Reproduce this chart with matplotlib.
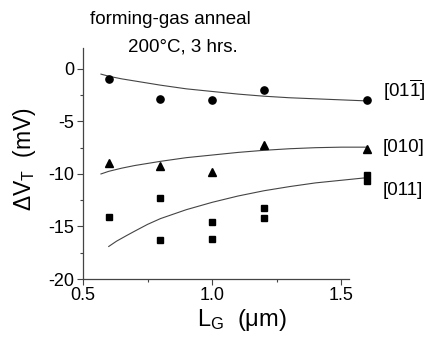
import matplotlib
matplotlib.use("Agg")
import matplotlib.pyplot as plt

plt.rcParams['font.family'] = ['Liberation Sans', 'DejaVu Sans']
plt.rcParams['mathtext.fontset'] = 'custom'
plt.rcParams['mathtext.rm'] = 'Liberation Sans'
plt.rcParams['mathtext.it'] = 'Liberation Sans:italic'
plt.rcParams['mathtext.bf'] = 'Liberation Sans:bold'

# Data
lg_circ = [0.6, 0.8, 1.0, 1.2, 1.6]
dv_circ = [-1.0, -2.9, -3.0, -2.0, -3.0]
lg_tri = [0.6, 0.8, 1.0, 1.2, 1.6]
dv_tri = [-9.0, -9.2, -9.8, -7.2, -7.6]
lg_sq = [0.6, 0.8, 0.8, 1.0, 1.0, 1.2, 1.2, 1.6, 1.6]
dv_sq = [-14.1, -12.3, -16.3, -14.6, -16.2, -13.2, -14.2, -10.1, -10.7]

# Fit curves
fit_x_circ = [0.57, 0.6, 0.65, 0.7, 0.75, 0.8, 0.9, 1.0, 1.1, 1.2, 1.3, 1.4, 1.5, 1.6]
fit_y_circ = [-0.5, -0.7, -0.95, -1.15, -1.35, -1.55, -1.9, -2.15, -2.4, -2.6, -2.75, -2.85, -2.95, -3.05]
fit_x_tri = [0.57, 0.6, 0.65, 0.7, 0.75, 0.8, 0.9, 1.0, 1.1, 1.2, 1.3, 1.4, 1.5, 1.6]
fit_y_tri = [-10.0, -9.75, -9.45, -9.2, -9.0, -8.8, -8.45, -8.2, -7.95, -7.75, -7.6, -7.5, -7.45, -7.45]
fit_x_sq = [0.6, 0.63, 0.67, 0.7, 0.75, 0.8, 0.9, 1.0, 1.1, 1.2, 1.3, 1.4, 1.5, 1.6]
fit_y_sq = [-16.9, -16.4, -15.85, -15.45, -14.8, -14.25, -13.4, -12.7, -12.1, -11.6, -11.2, -10.85, -10.6, -10.35]

labels = [r'[01$\overline{\mathrm{1}}$]', '[010]', '[011]']
label_y = [-2.0, -7.5, -11.6]

fig = plt.figure(figsize=(4.25, 3.37), dpi=100)
ax = fig.add_axes([0.195, 0.172, 0.73, 0.686])

lc = '#444444'
ax.plot(fit_x_circ, fit_y_circ, color=lc, lw=0.8)
ax.plot(fit_x_tri, fit_y_tri, color=lc, lw=0.8)
ax.plot(fit_x_sq, fit_y_sq, color=lc, lw=0.8)

ax.plot(lg_circ, dv_circ, 'o', color='black', ms=5.2, ls='none')
ax.plot(lg_tri, dv_tri, '^', color='black', ms=5.2, ls='none')
ax.plot(lg_sq, dv_sq, 's', color='black', ms=4.4, ls='none')

for lab, yy in zip(labels, label_y):
    ax.text(1.66, yy, lab, fontsize=13.5, va='center', ha='left')

ax.set_xlim(0.5, 1.7)
ax.set_ylim(-20, 2)
ax.set_xticks([0.5, 1.0, 1.5])
ax.set_xticklabels(['0.5', '1.0', '1.5'])
ax.set_xticks([0.75, 1.25], minor=True)
ax.set_yticks([0, -5, -10, -15, -20])
ax.set_yticklabels(['0', '-5', '-10', '-15', '-20'])
ax.set_yticks([-2.5, -7.5, -12.5, -17.5], minor=True)

for s in ['top', 'right']:
    ax.spines[s].set_visible(False)
for s in ['left', 'bottom']:
    ax.spines[s].set_color('#444444')
    ax.spines[s].set_linewidth(0.9)
ax.spines['bottom'].set_bounds(0.5, 1.53)

ax.tick_params(axis='both', which='major', direction='out', length=4, width=0.8,
               color='#444444', labelsize=13, pad=2)
ax.tick_params(axis='both', which='minor', direction='out', length=2.5, width=0.8,
               color='#444444')

ax.set_xlabel(r'L$_\mathrm{G}$  (μm)', fontsize=17)
ax.set_ylabel(r'ΔV$_\mathrm{T}$  (mV)', fontsize=16.5)
ax.xaxis.set_label_coords(0.513, -0.12)
ax.yaxis.set_label_coords(-0.145, 0.52)

fig.text(170 / 425, 1 - 20 / 337, 'forming-gas anneal', fontsize=13.5, ha='center', va='center')
fig.text(183 / 425, 1 - 47 / 337, '200°C, 3 hrs.', fontsize=13.5, ha='center', va='center')

fig.savefig('out.png', dpi=100)
